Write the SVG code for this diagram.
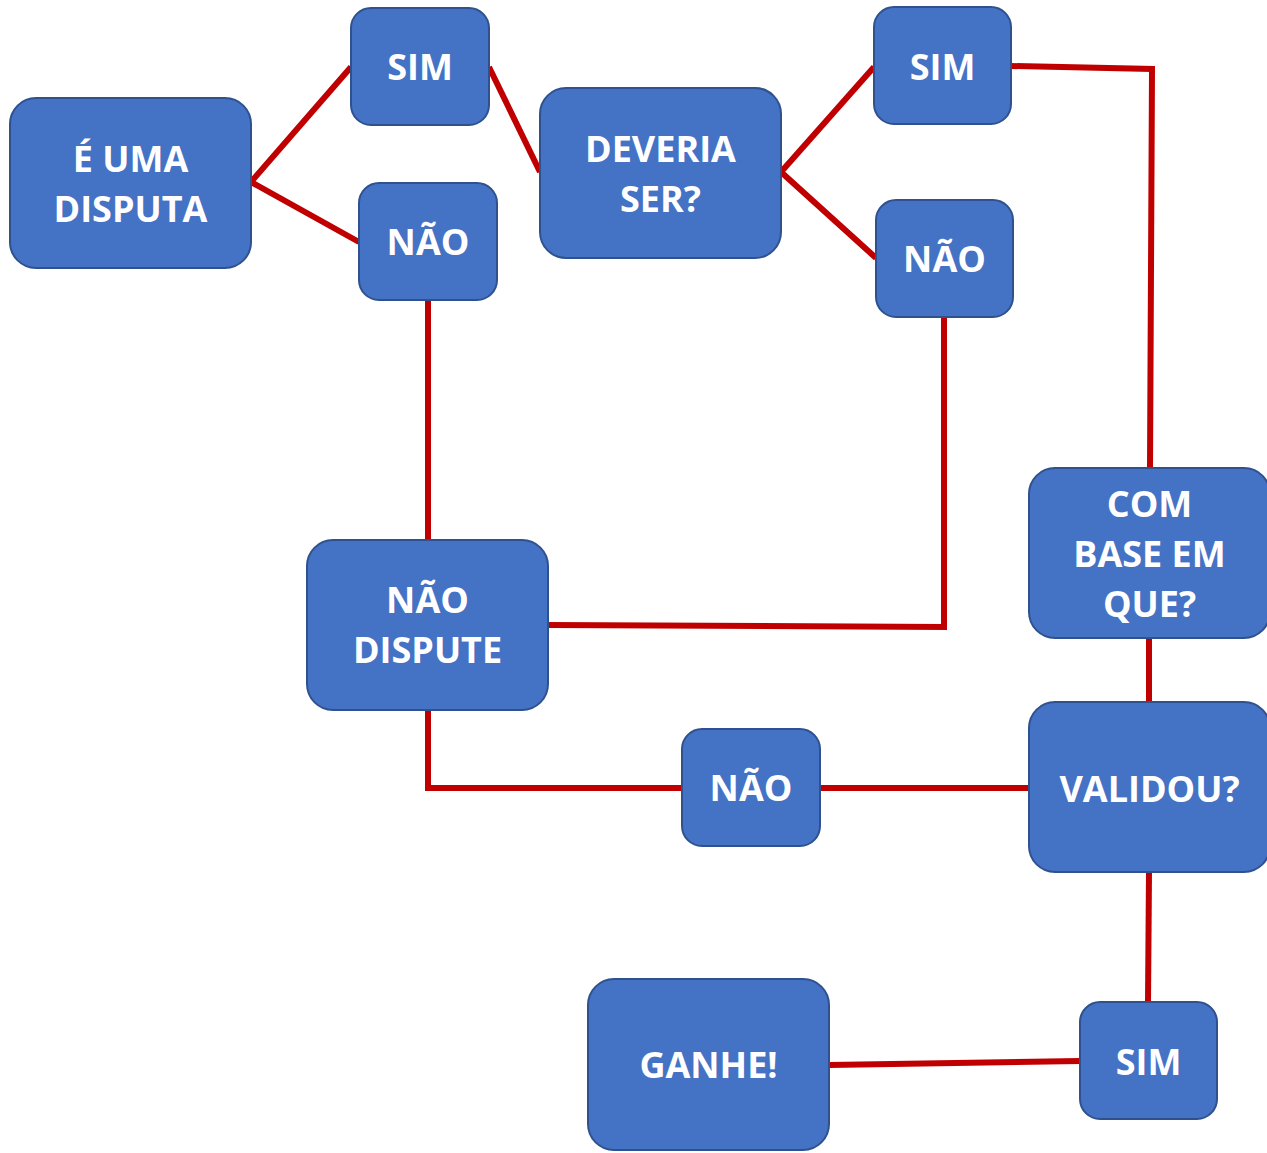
<svg xmlns="http://www.w3.org/2000/svg" width="1267" height="1153" viewBox="0 0 1267 1153">
<style>
.box{fill:#4472C4;stroke:#2F528F;stroke-width:2}
.t{fill:#FFFFFF;font-family:"Open Sans","Liberation Sans",sans-serif;font-weight:bold;font-size:36px;text-anchor:middle}
.c{fill:none;stroke:#C00000;stroke-width:6;stroke-linejoin:miter}
</style>
<rect width="1267" height="1153" fill="#FFFFFF"/>
<g id="connectors">
<polyline class="c" points="351,67 251,182 359,242"/>
<line class="c" x1="489" y1="67" x2="540" y2="172"/>
<polyline class="c" points="874,67 781,172 876,258"/>
<polyline class="c" points="1011,66 1152,69 1150,468"/>
<line class="c" x1="428" y1="300" x2="428" y2="540"/>
<polyline class="c" points="548,625 944,627 944,317"/>
<line class="c" x1="1149" y1="638" x2="1149" y2="702"/>
<polyline class="c" points="428,710 428,788 682,788"/>
<line class="c" x1="820" y1="788" x2="1029" y2="788"/>
<line class="c" x1="1149" y1="872" x2="1148" y2="1002"/>
<line class="c" x1="829" y1="1065" x2="1080" y2="1061"/>
</g>
<g id="n-disputa">
<rect class="box" x="10" y="98" width="241" height="170" rx="26"/>
<text class="t" x="130.5" y="172">É UMA</text>
<text class="t" x="130.5" y="222">DISPUTA</text>
</g>
<g id="n-sim1">
<rect class="box" x="351" y="8" width="138" height="117" rx="20"/>
<text class="t" x="420" y="80">SIM</text>
</g>
<g id="n-nao1">
<rect class="box" x="359" y="183" width="138" height="117" rx="20"/>
<text class="t" x="428" y="255">NÃO</text>
</g>
<g id="n-deveria">
<rect class="box" x="540" y="88" width="241" height="170" rx="26"/>
<text class="t" x="660.5" y="162">DEVERIA</text>
<text class="t" x="660.5" y="212">SER?</text>
</g>
<g id="n-sim2">
<rect class="box" x="874" y="7" width="137" height="117" rx="20"/>
<text class="t" x="942.5" y="80">SIM</text>
</g>
<g id="n-nao2">
<rect class="box" x="876" y="200" width="137" height="117" rx="20"/>
<text class="t" x="944.5" y="272">NÃO</text>
</g>
<g id="n-base">
<rect class="box" x="1029" y="468" width="241" height="170" rx="26"/>
<text class="t" x="1149.5" y="517">COM</text>
<text class="t" x="1149.5" y="567">BASE EM</text>
<text class="t" x="1149.5" y="617">QUE?</text>
</g>
<g id="n-validou">
<rect class="box" x="1029" y="702" width="241" height="170" rx="26"/>
<text class="t" x="1149.5" y="802">VALIDOU?</text>
</g>
<g id="n-naodispute">
<rect class="box" x="307" y="540" width="241" height="170" rx="26"/>
<text class="t" x="427.5" y="613">NÃO</text>
<text class="t" x="427.5" y="663">DISPUTE</text>
</g>
<g id="n-nao3">
<rect class="box" x="682" y="729" width="138" height="117" rx="20"/>
<text class="t" x="751" y="801">NÃO</text>
</g>
<g id="n-ganhe">
<rect class="box" x="588" y="979" width="241" height="171" rx="26"/>
<text class="t" x="708.5" y="1078">GANHE!</text>
</g>
<g id="n-sim3">
<rect class="box" x="1080" y="1002" width="137" height="117" rx="20"/>
<text class="t" x="1148.5" y="1075">SIM</text>
</g>
</svg>
